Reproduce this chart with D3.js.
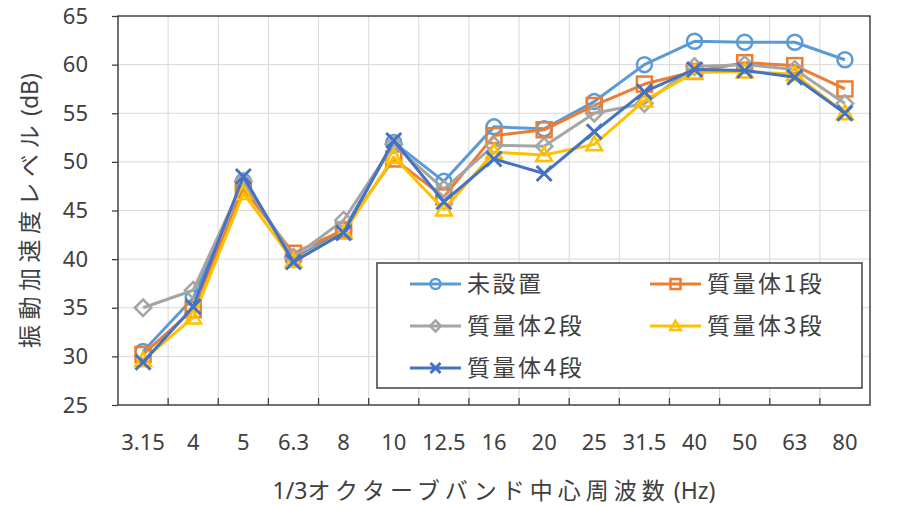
<!DOCTYPE html>
<meta charset="utf-8">
<title>vibration-levels</title>
<style>
body { margin: 0; background: #fff; }
text { font-family: "Noto Sans", "Noto Sans CJK JP", sans-serif; fill: #404040; }
.jp { font-family: "Noto Sans CJK JP", "Noto Sans", sans-serif; }
</style>
<body>
<script src="https://cdn.jsdelivr.net/npm/d3@7"></script>
<script>
var width = 900, height = 506;
var margin = {top: 16, right: 30, bottom: 101, left: 118};

// 1/3 octave band centre frequencies (Hz)
var freqs = ["3.15", "4", "5", "6.3", "8", "10", "12.5", "16", "20", "25", "31.5", "40", "50", "63", "80"];
var yTicks = [25, 30, 35, 40, 45, 50, 55, 60, 65];

// vibration acceleration level (dB)
var seriesNames = ["未設置", "質量体1段", "質量体2段", "質量体3段", "質量体4段"];
var noDevice = [30.5, 36.0, 48.0, 40.0, 43.0, 52.0, 48.0, 53.6, 53.4, 56.2, 60.0, 62.4, 62.3, 62.3, 60.5];
var mass1 = [30.2, 34.8, 47.3, 40.6, 43.0, 50.3, 46.4, 52.7, 53.3, 55.8, 58.0, 59.3, 60.2, 59.9, 57.5];
var mass2 = [35.0, 36.8, 48.0, 40.2, 44.0, 51.8, 47.2, 51.7, 51.6, 55.0, 56.0, 59.8, 60.0, 59.5, 56.0];
var mass3 = [29.6, 34.0, 46.8, 39.8, 42.7, 50.5, 45.1, 51.0, 50.7, 51.8, 56.3, 59.2, 59.3, 59.0, 55.0];
var mass4 = [29.4, 35.1, 48.5, 39.7, 42.7, 52.2, 45.9, 50.3, 48.8, 53.1, 57.2, 59.5, 59.4, 58.7, 55.0];

var colors = ["#5b9bd5", "#ed7d31", "#a5a5a5", "#ffc000", "#4472c4"];
var markers = ["circle", "square", "diamond", "triangle", "cross"];

var series = [noDevice, mass1, mass2, mass3, mass4].map(function(vals, i) {
  return {name: seriesNames[i], color: colors[i], marker: markers[i], values: vals};
});

var svg = d3.select("body").append("svg")
    .attr("width", width)
    .attr("height", height);

var x = d3.scaleBand()
    .domain(freqs)
    .range([margin.left, width - margin.right]);
var y = d3.scaleLinear()
    .domain([25, 65])
    .range([height - margin.bottom, margin.top]);

// grid
var grid = svg.append("g").attr("stroke", "#d9d9d9").attr("stroke-width", 1);
grid.selectAll("line.h")
    .data(yTicks.slice(1, -1))
  .enter().append("line")
    .attr("x1", margin.left).attr("x2", width - margin.right)
    .attr("y1", function(d) { return y(d); }).attr("y2", function(d) { return y(d); });
grid.selectAll("line.v")
    .data(freqs.slice(1))
  .enter().append("line")
    .attr("x1", function(d) { return x(d); }).attr("x2", function(d) { return x(d); })
    .attr("y1", margin.top).attr("y2", height - margin.bottom);

// y axis
var yAxis = d3.axisLeft(y).tickValues(yTicks).tickSize(6).tickPadding(24);
var gy = svg.append("g")
    .attr("transform", "translate(" + margin.left + ",0)")
    .call(yAxis);
gy.select(".domain").remove();
gy.selectAll(".tick line").attr("stroke", "#404040").attr("stroke-width", 1.3);
gy.selectAll(".tick text")
    .attr("font-size", 22)
    .attr("fill", "#404040")
    .style("font-family", "Noto Sans");

// x axis: ticks sit on band edges, pointing inward
var gx = svg.append("g")
    .attr("transform", "translate(0," + (height - margin.bottom) + ")");
gx.selectAll("line")
    .data(freqs.slice(1))
  .enter().append("line")
    .attr("x1", function(d) { return x(d); }).attr("x2", function(d) { return x(d); })
    .attr("y1", 0).attr("y2", -7)
    .attr("stroke", "#404040").attr("stroke-width", 1.3);
gx.selectAll("text")
    .data(freqs)
  .enter().append("text")
    .attr("x", function(d) { return x(d) + x.bandwidth() / 2; })
    .attr("y", 45)
    .attr("text-anchor", "middle")
    .attr("font-size", 22)
    .text(function(d) { return d; });

// plot frame
svg.append("rect")
    .attr("x", margin.left).attr("y", margin.top)
    .attr("width", width - margin.left - margin.right)
    .attr("height", height - margin.top - margin.bottom)
    .attr("fill", "none")
    .attr("stroke", "#404040")
    .attr("stroke-width", 1.5);

// marker shapes
function drawMarker(g, type, color, r) {
  if (type === "circle") {
    g.append("circle").attr("r", r).attr("fill", "none").attr("stroke", color).attr("stroke-width", 2.5);
  } else if (type === "square") {
    g.append("rect").attr("x", -r).attr("y", -r).attr("width", 2 * r).attr("height", 2 * r)
      .attr("fill", "none").attr("stroke", color).attr("stroke-width", 2.5);
  } else if (type === "diamond") {
    g.append("path").attr("d", "M0," + (-r * 1.1) + "L" + (r * 1.1) + ",0L0," + (r * 1.1) + "L" + (-r * 1.1) + ",0Z")
      .attr("fill", "none").attr("stroke", color).attr("stroke-width", 2.5);
  } else if (type === "triangle") {
    g.append("path").attr("d", "M0," + (-r * 1.05) + "L" + (r * 1.05) + "," + (r * 0.8) + "L" + (-r * 1.05) + "," + (r * 0.8) + "Z")
      .attr("fill", "none").attr("stroke", color).attr("stroke-width", 2.5);
  } else {
    g.append("path").attr("d", "M" + (-r) + "," + (-r) + "L" + r + "," + r + "M" + (-r) + "," + r + "L" + r + "," + (-r))
      .attr("fill", "none").attr("stroke", color).attr("stroke-width", 3);
  }
}

var line = d3.line()
    .x(function(d, i) { return x(freqs[i]) + x.bandwidth() / 2; })
    .y(function(d) { return y(d); });

series.forEach(function(s) {
  var g = svg.append("g");
  g.append("path")
      .datum(s.values)
      .attr("d", line)
      .attr("fill", "none")
      .attr("stroke", s.color)
      .attr("stroke-width", 3)
      .attr("stroke-linejoin", "round");
  g.selectAll("g.m")
      .data(s.values)
    .enter().append("g")
      .attr("transform", function(d, i) {
        return "translate(" + (x(freqs[i]) + x.bandwidth() / 2) + "," + y(d) + ")";
      })
      .each(function() { drawMarker(d3.select(this), s.marker, s.color, 7.5); });
});

// legend
var lg = svg.append("g").attr("transform", "translate(377,263)");
lg.append("rect")
    .attr("width", 485).attr("height", 125)
    .attr("fill", "#fff")
    .attr("stroke", "#404040")
    .attr("stroke-width", 1.5);
series.forEach(function(s, i) {
  var col = i % 2, row = Math.floor(i / 2);
  var item = lg.append("g")
      .attr("transform", "translate(" + (33 + col * 240) + "," + (21 + row * 42) + ")");
  item.append("line")
      .attr("x1", 0).attr("x2", 51)
      .attr("stroke", s.color).attr("stroke-width", 3);
  var m = item.append("g").attr("transform", "translate(25.5,0)");
  drawMarker(m, s.marker, s.color, 5);
  item.append("text")
      .attr("class", "jp")
      .attr("x", 57)
      .attr("dy", "0.35em")
      .attr("font-size", 23)
      .attr("letter-spacing", 2.5)
      .text(s.name);
});

// axis titles: Japanese runs are set wider than the Latin ones
var xt = svg.append("text")
    .attr("class", "jp")
    .attr("x", (margin.left + width - margin.right) / 2)
    .attr("y", 499)
    .attr("text-anchor", "middle")
    .attr("font-size", 23);
xt.append("tspan").style("font-family", "Noto Sans").text("1/3");
xt.append("tspan").attr("letter-spacing", 5).text("オクターブバンド中心周波数");
xt.append("tspan").attr("dx", 4).style("font-family", "Noto Sans").text("(Hz)");

var yt = svg.append("text")
    .attr("class", "jp")
    .attr("transform", "translate(38," + ((margin.top + height - margin.bottom) / 2) + ") rotate(-90)")
    .attr("text-anchor", "middle")
    .attr("font-size", 23);
yt.append("tspan").attr("letter-spacing", 5.5).text("振動加速度レベル");
yt.append("tspan").attr("dx", 4).style("font-family", "Noto Sans").text("(dB)");
</script>
